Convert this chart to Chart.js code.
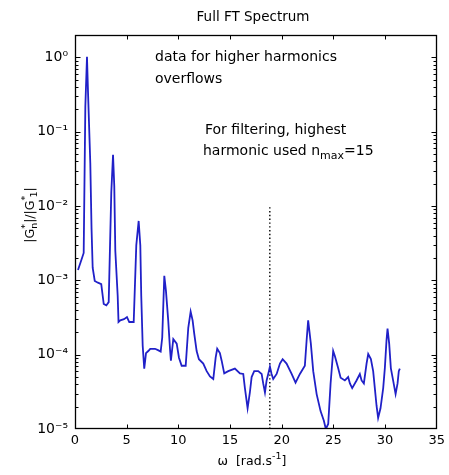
<!DOCTYPE html>
<html><head><meta charset="utf-8">
<script src="https://cdn.jsdelivr.net/npm/chart.js@4"></script>
<style>html,body{margin:0;padding:0;background:#fff}#c{display:block}</style>
</head><body>
<canvas id="c" width="449" height="475"></canvas>
<script>
const omega = [0.29,0.68,0.84,1.00,1.16,1.26,1.48,1.60,1.71,1.91,
2.22,2.54,2.78,3.03,3.26,3.51,3.68,3.80,3.90,4.13,
4.21,4.38,4.74,5.03,5.25,5.68,5.93,6.16,6.32,6.41,
6.55,6.70,6.87,7.09,7.28,7.74,8.03,8.29,8.44,8.64,
8.80,9.02,9.19,9.28,9.51,9.84,10.06,10.32,10.71,10.96,
11.19,11.38,11.54,11.77,11.99,12.41,12.74,13.06,13.38,13.61,
13.76,14.02,14.19,14.44,14.83,15.47,15.96,16.28,16.44,16.70,
16.92,17.09,17.34,17.73,18.06,18.21,18.38,18.54,18.76,18.86,
19.02,19.18,19.51,19.83,20.09,20.47,20.96,21.34,21.76,22.24,
22.41,22.56,22.82,23.05,23.38,23.76,24.08,24.27,24.50,24.73,
24.98,25.15,25.46,25.70,26.11,26.43,26.60,26.82,27.24,27.56,
27.73,27.95,28.21,28.37,28.63,28.85,29.01,29.18,29.33,29.56,
29.82,29.98,30.14,30.24,30.40,30.56,30.78,31.02,31.21,31.33,
31.43];
const ratio = [1.38e-3,2.0e-3,2.34e-3,0.219,1.02,0.339,0.038,5.0e-3,1.48e-3,9.8e-4,
9.3e-4,8.9e-4,4.8e-4,4.6e-4,5.1e-4,0.0151,0.049,0.0186,2.5e-3,6.2e-4,
2.75e-4,2.9e-4,3.0e-4,3.2e-4,2.75e-4,2.75e-4,2.95e-3,6.3e-3,2.95e-3,6.2e-4,
1.32e-4,6.5e-5,1.05e-4,1.12e-4,1.2e-4,1.2e-4,1.15e-4,1.1e-4,1.7e-4,1.15e-3,
7.2e-4,2.9e-4,1.2e-4,8.3e-5,1.62e-4,1.41e-4,9.1e-5,7.1e-5,7.1e-5,2.3e-4,
3.8e-4,2.9e-4,1.9e-4,1.12e-4,8.7e-5,7.6e-5,6.0e-5,5.1e-5,4.7e-5,9.1e-5,
1.2e-4,1.05e-4,8.3e-5,5.6e-5,6.0e-5,6.5e-5,5.6e-5,5.5e-5,3.55e-5,1.9e-5,
3.1e-5,5.0e-5,6.0e-5,6.0e-5,5.5e-5,4.1e-5,3.1e-5,4.5e-5,6.0e-5,6.9e-5,
5.5e-5,4.7e-5,5.5e-5,7.6e-5,8.7e-5,7.6e-5,5.5e-5,4.2e-5,5.5e-5,7.1e-5,
1.55e-4,2.9e-4,1.41e-4,6.0e-5,2.95e-5,1.74e-5,1.29e-5,1.0e-5,1.17e-5,4.1e-5,
1.12e-4,9.5e-5,6.6e-5,4.9e-5,4.5e-5,5.0e-5,4.1e-5,3.55e-5,4.5e-5,5.5e-5,
4.5e-5,4.1e-5,7.6e-5,1.02e-4,8.7e-5,6.0e-5,3.55e-5,2.04e-5,1.41e-5,1.9e-5,
3.55e-5,6.6e-5,1.55e-4,2.24e-4,1.41e-4,6.6e-5,4.5e-5,2.95e-5,4.1e-5,6.0e-5,
6.5e-5];
const nmaxOmega = [18.85, 18.85];
const nmaxLevel = [1e-5, 1e-2];
const xTicks = [0,5,10,15,20,25,30,35];
const yDecades = [1e-5,1e-4,1e-3,1e-2,1e-1,1];
const yTickLabels = ['10\u207B\u2075','10\u207B\u2074','10\u207B\u00B3','10\u207B\u00B2','10\u207B\u00B9','10\u2070'];

const FONT = "'DejaVu Sans', 'Liberation Sans', sans-serif";

function drawParts(ctx, parts, x, y, align) {
  let total = 0;
  const ws = parts.map(p => { ctx.font = p.s + 'px ' + FONT; const w = ctx.measureText(p.t).width; if (!p.noAdv) total += w; return w; });
  let cx = align === 'center' ? x - total / 2 : x;
  ctx.textAlign = 'left'; ctx.textBaseline = 'middle';
  parts.forEach((p, i) => {
    ctx.font = p.s + 'px ' + FONT;
    ctx.fillText(p.t, cx, y + (p.dy || 0));
    if (!p.noAdv) cx += ws[i];
  });
}

const deco = {
  id: 'deco',
  afterDatasetsDraw(chart) {
    const {ctx, chartArea: a, scales: {x, y}} = chart;
    ctx.save();
    ctx.strokeStyle = '#000'; ctx.lineWidth = 1;
    const L = Math.round(a.left) + 0.5, R = Math.round(a.right) - 0.5, T = Math.round(a.top) + 0.5, B = Math.round(a.bottom) - 0.5;
    ctx.lineWidth = 1.3;
    ctx.strokeRect(L, T, R - L, B - T);
    ctx.lineWidth = 1;
    ctx.beginPath();
    xTicks.forEach(v => {
      const px = Math.round(x.getPixelForValue(v)) + 0.5;
      if (px <= L + 1 || px >= R - 1) return;
      ctx.moveTo(px, B); ctx.lineTo(px, B - 4);
      ctx.moveTo(px, T); ctx.lineTo(px, T + 4);
    });
    yDecades.forEach(d => {
      for (let m = 1; m <= 9; m++) {
        const v = d * m;
        if (v > y.max || v < y.min) continue;
        const py = Math.round(y.getPixelForValue(v)) + 0.5;
        const len = m === 1 ? 5 : 3;
        if (m === 1 && (py <= T + 1 || py >= B - 1)) continue;
        ctx.moveTo(L, py); ctx.lineTo(L + len, py);
        ctx.moveTo(R, py); ctx.lineTo(R - len, py);
      }
    });
    ctx.stroke();
    ctx.fillStyle = '#000';
    drawParts(ctx, [{t: 'Full FT Spectrum', s: 13.5}], 253, 17, 'center');
    drawParts(ctx, [{t: 'data for higher harmonics', s: 14}], 155, 57, 'left');
    drawParts(ctx, [{t: 'overflows', s: 14}], 155, 79, 'left');
    drawParts(ctx, [{t: 'For filtering, highest', s: 14}], 205, 130, 'left');
    drawParts(ctx, [{t: 'harmonic used n', s: 14}, {t: 'max', s: 11, dy: 5}, {t: '=15', s: 14}], 203, 151, 'left');
    drawParts(ctx, [{t: '\u03C9  [rad.s', s: 12.5}, {t: '-1', s: 9.5, dy: -5}, {t: ']', s: 12.5}], 252, 462, 'center');
    ctx.save();
    ctx.translate(31, 215);
    ctx.rotate(-Math.PI / 2);
    drawParts(ctx, [{t: '|G', s: 12.5}, {t: '*', s: 9.5, dy: -5, noAdv: true}, {t: 'n', s: 9.5, dy: 4}, {t: '|/|G', s: 12.5}, {t: '*', s: 9.5, dy: -5, noAdv: true}, {t: ' 1', s: 9.5, dy: 4}, {t: '|', s: 12.5}], 0, 0, 'center');
    ctx.restore();
    ctx.restore();
  }
};

new Chart(document.getElementById('c'), {
  type: 'scatter',
  data: {
    datasets: [
      { data: omega.map((w, i) => ({x: w, y: ratio[i]})), showLine: true, borderColor: '#2020c8', borderWidth: 1.8, pointRadius: 0, tension: 0 },
      { data: nmaxOmega.map((w, i) => ({x: w, y: nmaxLevel[i]})), showLine: true, borderColor: '#000', borderWidth: 1.4, borderDash: [1.4, 2.4], pointRadius: 0 }
    ]
  },
  options: {
    responsive: false, animation: false, devicePixelRatio: 1,
    layout: {padding: {top: 35, right: 12, left: 0, bottom: 0}},
    plugins: {legend: {display: false}, tooltip: {enabled: false}, title: {display: false}},
    scales: {
      x: {
        type: 'linear', min: 0, max: 35,
        afterBuildTicks: s => { s.ticks = xTicks.map(v => ({value: v})); },
        afterFit: s => { s.height = 46; },
        ticks: {color: '#000', font: {family: FONT, size: 13}, padding: 4, maxRotation: 0, autoSkip: false},
        grid: {display: false, drawTicks: false}, border: {display: false}
      },
      y: {
        type: 'logarithmic', min: 1e-5, max: 2,
        afterBuildTicks: s => { s.ticks = yDecades.map(v => ({value: v})); },
        afterFit: s => { s.width = 75; },
        ticks: {color: '#000', font: {family: FONT, size: 14}, padding: 7, autoSkip: false,
          callback: (v) => { const i = yDecades.findIndex(d => Math.abs(d - v) / d < 1e-6); return i >= 0 ? yTickLabels[i] : ''; }},
        grid: {display: false, drawTicks: false}, border: {display: false}
      }
    }
  },
  plugins: [deco]
});
</script>
</body></html>
